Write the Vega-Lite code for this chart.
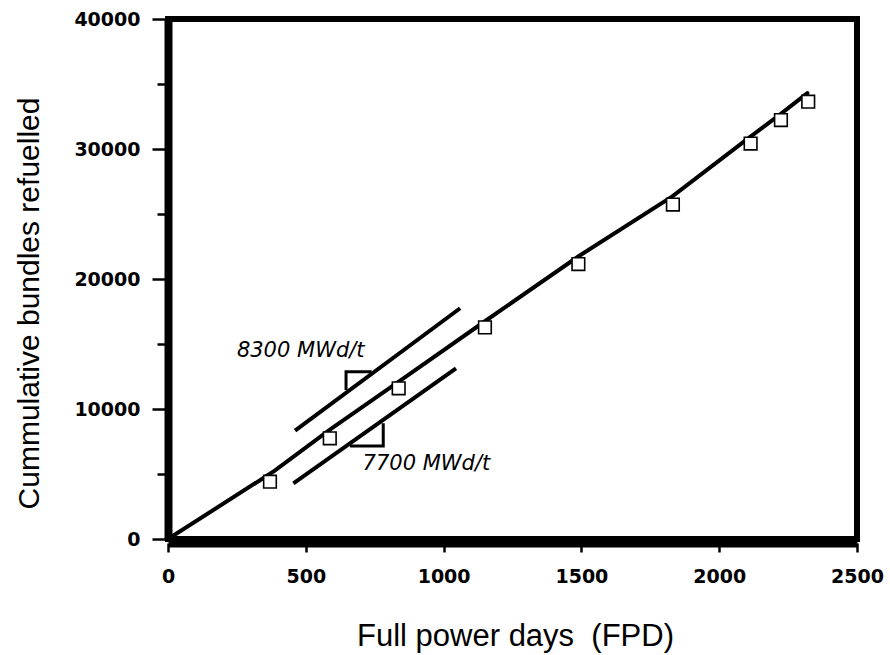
{
  "$schema": "https://vega.github.io/schema/vega-lite/v6.json",
  "autosize": {"type": "none"},
  "padding": {"left": 168, "top": 19, "right": 33, "bottom": 116},
  "width": 689,
  "height": 520,
  "background": "white",
  "config": {"view": {"stroke": "black", "strokeWidth": 6}},
  "datasets": {
    "curve": [
      {"x": 0, "y": 0}, {"x": 380, "y": 5150}, {"x": 590, "y": 8450}, {"x": 840, "y": 12150},
      {"x": 1150, "y": 16750}, {"x": 1490, "y": 21750}, {"x": 1830, "y": 26350},
      {"x": 2110, "y": 30900}, {"x": 2220, "y": 32650}, {"x": 2320, "y": 34300}
    ],
    "points": [
      {"x": 370, "y": 4410}, {"x": 587, "y": 7745}, {"x": 837, "y": 11590}, {"x": 1150, "y": 16280},
      {"x": 1489, "y": 21150}, {"x": 1832, "y": 25730}, {"x": 2114, "y": 30420},
      {"x": 2224, "y": 32230}, {"x": 2323, "y": 33640}
    ],
    "slopes": [
      {"id": "a", "x": 461, "y": 8330}, {"id": "a", "x": 1060, "y": 17750},
      {"id": "b", "x": 455, "y": 4280}, {"id": "b", "x": 1045, "y": 13130}
    ],
    "triangles": [
      {"id": "u", "i": 0, "x": 646, "y": 11460}, {"id": "u", "i": 1, "x": 646, "y": 12870}, {"id": "u", "i": 2, "x": 739, "y": 12870},
      {"id": "l", "i": 0, "x": 660, "y": 7150}, {"id": "l", "i": 1, "x": 781, "y": 7150}, {"id": "l", "i": 2, "x": 781, "y": 8900}
    ],
    "labels": [
      {"t": "8300 MWd/t", "x": 250, "y": 14020},
      {"t": "7700 MWd/t", "x": 706, "y": 5310}
    ]
  },
  "encoding": {
    "x": {
      "field": "x", "type": "quantitative",
      "scale": {"domain": [0, 2500], "nice": false, "zero": false},
      "axis": {
        "title": "Full power days \u00a0(FPD)",
        "values": [0, 500, 1000, 1500, 2000, 2500],
        "format": "d", "grid": false, "offset": 4,
        "domainWidth": 8, "domainColor": "black",
        "tickSize": 9, "tickWidth": 2.5, "tickColor": "black",
        "labelFont": "DejaVu Sans", "labelFontWeight": "bold", "labelFontSize": 19,
        "labelColor": "black", "labelPadding": 15, "labelFlush": false, "labelOverlap": false,
        "titleFont": "Liberation Sans", "titleFontSize": 31, "titleFontWeight": "normal",
        "titleColor": "black", "titleBaseline": "alphabetic", "titleAlign": "center",
        "titleX": 347, "titleY": 102
      }
    },
    "y": {
      "field": "y", "type": "quantitative",
      "scale": {"domain": [0, 40000], "nice": false, "zero": false},
      "axis": {
        "title": "Cummulative bundles refuelled",
        "values": [0, 5000, 10000, 15000, 20000, 25000, 30000, 35000, 40000],
        "format": "d",
        "labelExpr": "datum.value % 10000 === 0 ? datum.label : ''",
        "grid": false,
        "domainWidth": 8, "domainColor": "black",
        "tickSize": {"condition": {"test": "datum.value % 10000 === 0", "value": 16}, "value": 11},
        "tickWidth": 2.5, "tickColor": "black",
        "labelFont": "DejaVu Sans", "labelFontWeight": "bold", "labelFontSize": 19,
        "labelColor": "black", "labelPadding": 12, "labelFlush": false, "labelOverlap": false,
        "titleFont": "Liberation Sans", "titleFontSize": 30, "titleFontWeight": "normal",
        "titleColor": "black", "titleAngle": 270, "titleAlign": "center", "titleBaseline": "middle",
        "titleX": -139, "titleY": 284
      }
    }
  },
  "layer": [
    {
      "data": {"name": "curve"},
      "mark": {"type": "line", "color": "black", "strokeWidth": 4, "strokeCap": "round"}
    },
    {
      "data": {"name": "slopes"},
      "mark": {"type": "line", "color": "black", "strokeWidth": 4},
      "encoding": {"detail": {"field": "id"}}
    },
    {
      "data": {"name": "triangles"},
      "mark": {"type": "line", "color": "black", "strokeWidth": 3},
      "encoding": {"detail": {"field": "id"}, "order": {"field": "i", "type": "quantitative"}}
    },
    {
      "data": {"name": "points"},
      "mark": {"type": "point", "shape": "square", "size": 160, "filled": true, "fill": "white", "stroke": "black", "strokeWidth": 1.6, "opacity": 1}
    },
    {
      "data": {"name": "labels"},
      "mark": {"type": "text", "align": "left", "baseline": "alphabetic", "font": "DejaVu Sans", "fontStyle": "italic", "fontSize": 21, "color": "black"},
      "encoding": {"text": {"field": "t"}}
    }
  ]
}
